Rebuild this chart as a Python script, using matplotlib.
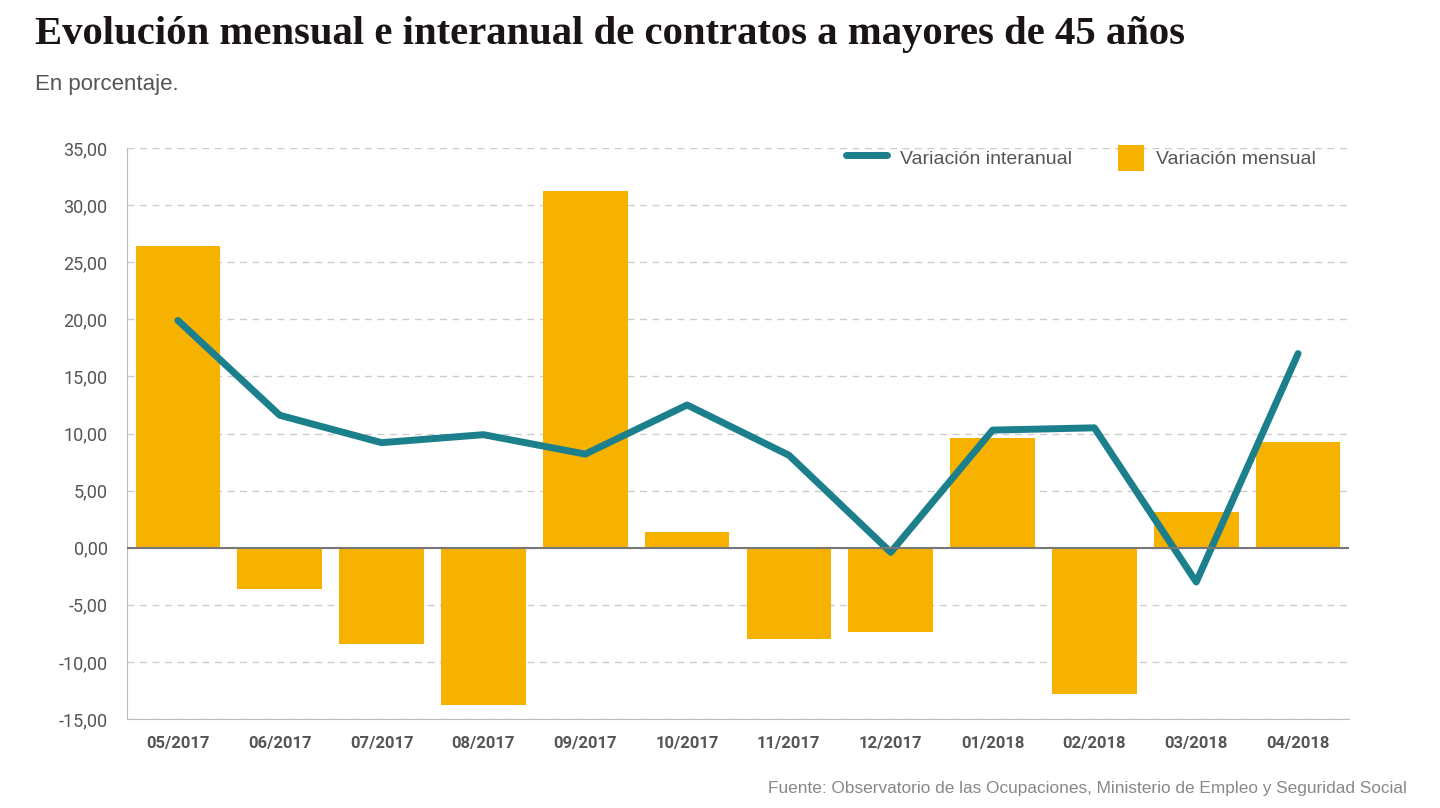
import numpy as np
import matplotlib.pyplot as plt
from matplotlib.ticker import FuncFormatter
from matplotlib.legend_handler import HandlerPatch
from matplotlib.patches import Rectangle
from matplotlib.container import BarContainer

# datos
meses = ['05/2017', '06/2017', '07/2017', '08/2017', '09/2017', '10/2017',
         '11/2017', '12/2017', '01/2018', '02/2018', '03/2018', '04/2018']
var_mensual = [26.4, -3.6, -8.4, -13.8, 31.2, 1.4, -8.0, -7.4, 9.6, -12.8, 3.1, 9.3]
var_interanual = [19.9, 11.6, 9.2, 9.9, 8.2, 12.5, 8.1, -0.4, 10.3, 10.5, -3.0, 17.0]

amarillo = '#F7B200'
azul = '#1B7F8C'


class HandlerCuadrado(HandlerPatch):
    # cuadrado en vez de rectangulo para la leyenda de barras
    def create_artists(self, legend, orig_handle, xdescent, ydescent, width, height,
                       fontsize, trans):
        lado = height
        r = Rectangle((width - lado - xdescent, -ydescent), lado, lado,
                      facecolor=amarillo, edgecolor='none', transform=trans)
        return [r]


fig = plt.figure(figsize=(14.4, 8.08), dpi=100)
ax = fig.add_axes([0.0882, 0.1101, 0.8486, 0.7067])

x = np.arange(len(meses))
ax.bar(x, var_mensual, width=0.83, color=amarillo, label='Variación mensual', zorder=2)
ax.plot(x, var_interanual, color=azul, lw=5, solid_capstyle='round',
        label='Variación interanual', zorder=3)

ax.set_xlim(-0.5, len(meses) - 0.5)
ax.set_ylim(-15, 35)
ax.set_yticks(np.arange(-15, 36, 5))
ax.yaxis.set_major_formatter(FuncFormatter(lambda v, p: f'{v:.2f}'.replace('.', ',')))
ax.set_xticks(x)
ax.set_xticklabels(meses, fontfamily='Roboto', fontweight='bold', fontsize=12, color='#555555')
for lab in ax.get_yticklabels():
    lab.set_fontfamily('Roboto')
    lab.set_fontsize(13)
    lab.set_color('#555555')

ax.grid(axis='y', color='#cccccc', ls=(0, (5, 4)), lw=1, zorder=0)
ax.axhline(0, color='#777777', lw=1.5, zorder=4)
for s in ['top', 'right']:
    ax.spines[s].set_visible(False)
ax.spines['left'].set_color('#bbbbbb')
ax.spines['bottom'].set_color('#bbbbbb')
ax.tick_params(axis='y', length=8, color='#ffffff', pad=6)
ax.tick_params(axis='x', length=0, pad=12)

leg = ax.legend(loc='center right', ncol=2, frameon=False,
                prop={'family': 'Liberation Sans', 'size': 14},
                handlelength=2.1, handleheight=1.65, columnspacing=1.6, handletextpad=0.65,
                bbox_to_anchor=(0.9875, 0.9825),
                handler_map={BarContainer: HandlerCuadrado()})
for t in leg.get_texts():
    t.set_color('#555555')

fig.text(0.024, 0.957, 'Evolución mensual e interanual de contratos a mayores de 45 años',
         fontfamily='Liberation Serif', fontweight='bold', fontsize=29.3, color='#1a1414',
         va='center', ha='left')
fig.text(0.024, 0.896, 'En porcentaje.', fontfamily='Liberation Sans', fontsize=16,
         color='#555555', va='center', ha='left')
fig.text(0.977, 0.024, 'Fuente: Observatorio de las Ocupaciones, Ministerio de Empleo y Seguridad Social',
         fontfamily='Liberation Sans', fontsize=12.4, color='#888888', ha='right', va='center')

fig.savefig('out.png', dpi=100, facecolor='white')
